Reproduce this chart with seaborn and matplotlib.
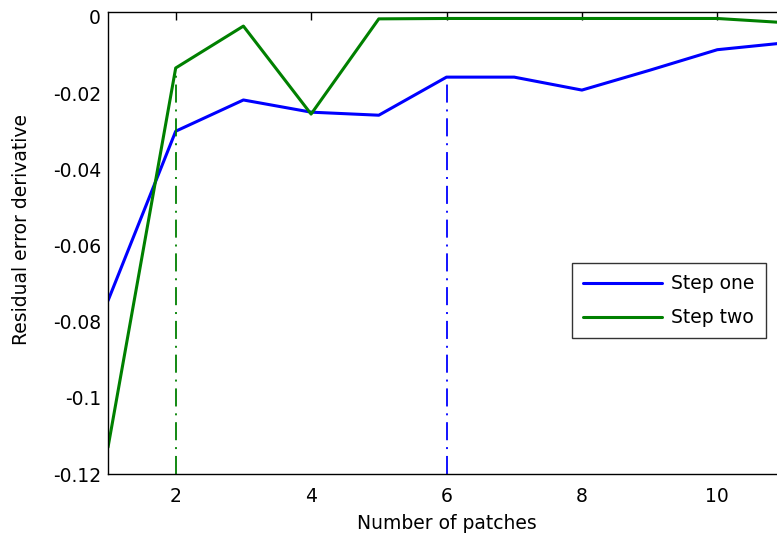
#import libraries
import numpy as np
import pandas as pd
import seaborn as sns
import matplotlib.pyplot as plt

#data
patches = [1, 2, 3, 4, 5, 6, 7, 8, 9, 10, 11]
step_one = [-0.0745, -0.0300, -0.0218, -0.0250, -0.0258, -0.0158, -0.0158, -0.0192, -0.0140, -0.0086, -0.0068]
step_two = [-0.1130, -0.0134, -0.0024, -0.0255, -0.0005, -0.0004, -0.0004, -0.0004, -0.0004, -0.0004, -0.0015]
series_names = ['Step one', 'Step two']
marked_patch = [6, 2]   # dash-dot markers for each series
x_ticks = [2, 4, 6, 8, 10]
y_ticks = [0, -0.02, -0.04, -0.06, -0.08, -0.1, -0.12]
y_tick_labels = ['0', '-0.02', '-0.04', '-0.06', '-0.08', '-0.1', '-0.12']

#long-form frame for seaborn
df = pd.DataFrame({
    'patches': patches * 2,
    'value': step_one + step_two,
    'series': [series_names[0]] * len(patches) + [series_names[1]] * len(patches),
})

sns.set_theme(style='white')
plt.rcParams['font.family'] = ['DejaVu Sans']
plt.rcParams['axes.unicode_minus'] = False

palette = {'Step one': '#0000ff', 'Step two': '#008000'}
fs = 13.5

fig = plt.figure(figsize=(7.77, 5.35), dpi=100)
ax = fig.add_axes([108 / 777, 61 / 535, 677 / 777, 462 / 535])

sns.lineplot(data=df, x='patches', y='value', hue='series', palette=palette,
             linewidth=2.2, ax=ax, legend=True)

#dash-dot drop lines at the marked patch counts
for name, vals, mp in zip(series_names, [step_one, step_two], marked_patch):
    yv = vals[patches.index(mp)]
    ax.vlines(mp, -0.12, yv, colors=palette[name], linewidth=1.3,
              linestyles=(0, (10, 3.8, 1.1, 3.8)))

ax.set_xlim(1, 11)
ax.set_ylim(-0.12, 0.0013)
ax.set_xticks(x_ticks)
ax.set_xticklabels([str(t) for t in x_ticks])
ax.set_yticks(y_ticks)
ax.set_yticklabels(y_tick_labels)
ax.tick_params(direction='in', length=6, width=1, top=True, right=True,
               labelsize=fs, colors='black')
ax.tick_params(axis='x', pad=9)
ax.tick_params(axis='y', pad=5)
for s in ax.spines.values():
    s.set_color('black')
    s.set_linewidth(1)

ax.set_xlabel('Number of patches', fontsize=fs, color='black', labelpad=6)
ax.set_ylabel('Residual error derivative', fontsize=fs, color='black')
ax.yaxis.set_label_coords(-0.113, 0.53)

leg = ax.legend(loc='upper right', bbox_to_anchor=(0.972, 0.457), fontsize=fs,
                frameon=True, fancybox=False, handlelength=4.2, handletextpad=0.5,
                borderpad=0.6, labelspacing=0.8, borderaxespad=0)
leg.get_frame().set_edgecolor('black')
leg.get_frame().set_linewidth(1)
for line in leg.get_lines():
    line.set_linewidth(2.2)
for t in leg.get_texts():
    t.set_color('black')

fig.savefig('out.png', dpi=100)
